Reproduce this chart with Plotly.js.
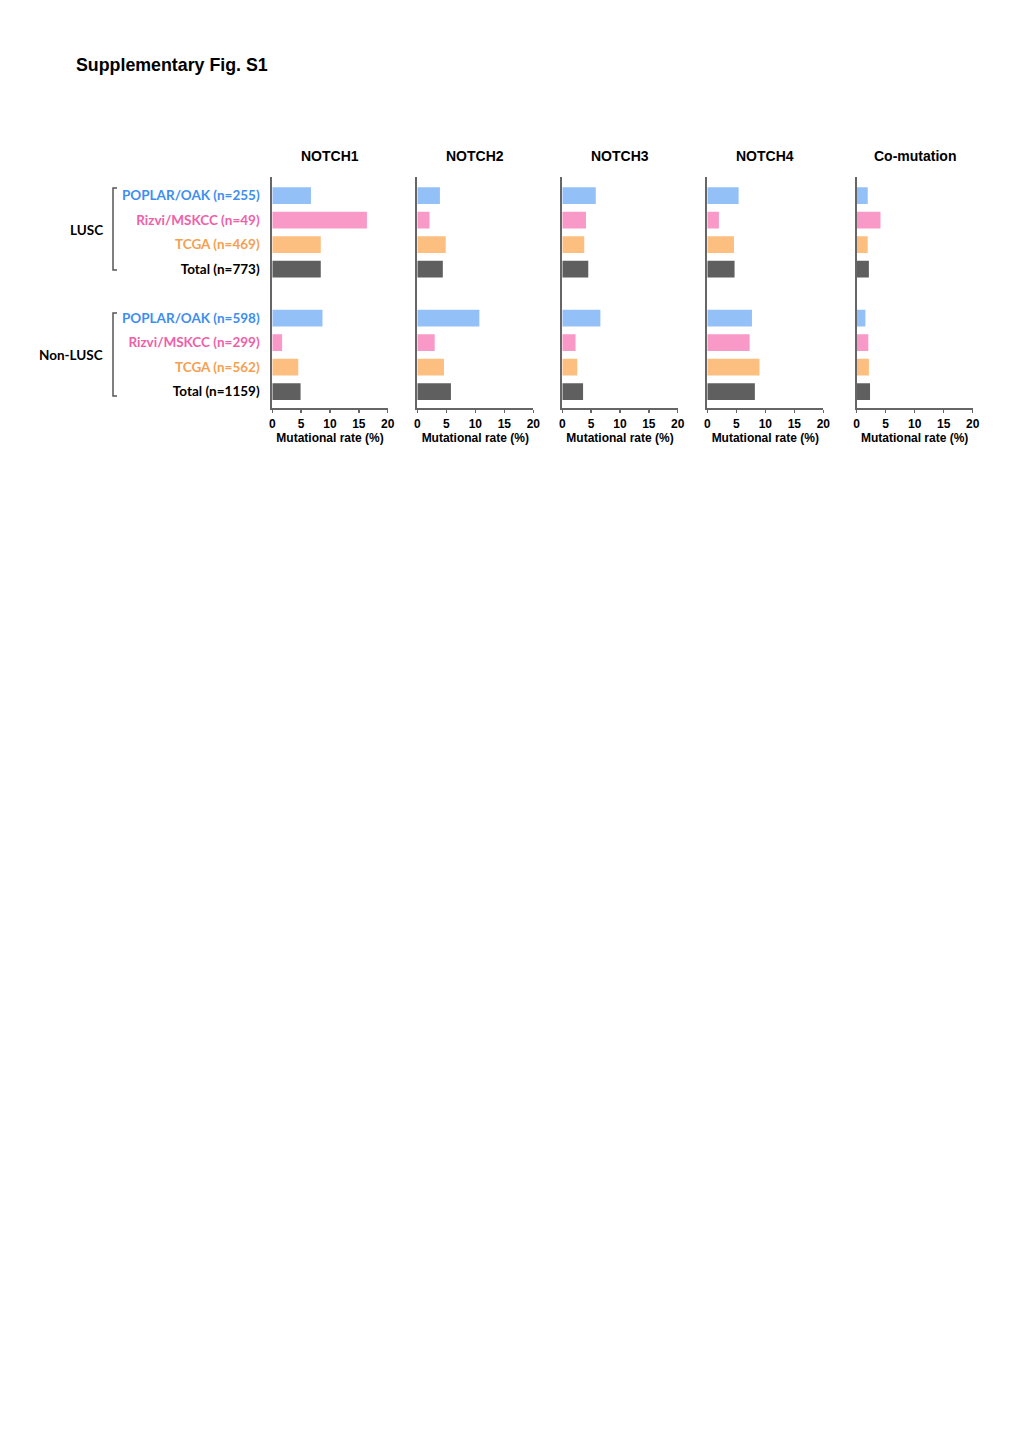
<!DOCTYPE html>
<html>
<head>
<meta charset="utf-8">
<script src="https://cdn.plot.ly/plotly-3.0.1.min.js"></script>
<style>html,body{margin:0;padding:0;background:#fff;}#chart{width:1020px;height:1442px;}</style>
</head>
<body>
<div id="chart"></div>
<script>
// ---- data ----
const panels = ["NOTCH1", "NOTCH2", "NOTCH3", "NOTCH4", "Co-mutation"];
const cohorts = ["POPLAR/OAK", "Rizvi/MSKCC", "TCGA", "Total"];
const groups = ["LUSC", "Non-LUSC"];
const lusc_labels = ["POPLAR/OAK (n=255)", "Rizvi/MSKCC (n=49)", "TCGA (n=469)", "Total (n=773)"];
const nonlusc_labels = ["POPLAR/OAK (n=598)", "Rizvi/MSKCC (n=299)", "TCGA (n=562)", "Total (n=1159)"];
// values: [POPLAR/OAK, Rizvi/MSKCC, TCGA, Total]
const notch1_lusc = [6.7, 16.4, 8.4, 8.4];
const notch1_nonlusc = [8.7, 1.7, 4.5, 4.9];
const notch2_lusc = [3.9, 2.1, 4.9, 4.4];
const notch2_nonlusc = [10.7, 3.0, 4.6, 5.8];
const notch3_lusc = [5.8, 4.1, 3.8, 4.5];
const notch3_nonlusc = [6.6, 2.3, 2.6, 3.6];
const notch4_lusc = [5.4, 2.0, 4.6, 4.7];
const notch4_nonlusc = [7.7, 7.3, 9.0, 8.2];
const comut_lusc = [1.9, 4.1, 1.9, 2.1];
const comut_nonlusc = [1.5, 2.0, 2.1, 2.3];
const xticks = [0, 5, 10, 15, 20];

const lusc = [notch1_lusc, notch2_lusc, notch3_lusc, notch4_lusc, comut_lusc];
const nonlusc = [notch1_nonlusc, notch2_nonlusc, notch3_nonlusc, notch4_nonlusc, comut_nonlusc];

const barColors = ["#94c0f8", "#f899c8", "#fdbf80", "#5f5f5f"];
const labelColors = ["#3d8ef0", "#f060a8", "#f5a050", "#000000"];

// slots: LUSC 0..3, gap at 4, Non-LUSC 5..8
const luscPos = [0, 1, 2, 3];
const nonPos = [5, 6, 7, 8];

const W = 1020, H = 1442;
const xDomPx = [[272.3, 387.7], [417.3, 533.3], [562.3, 677.7], [707.3, 823.3], [856.7, 972.7]];
const yTopPx = 176.7, yBotPx = 408.3;

const traces = [];
const layout = {
  width: W, height: H,
  margin: {l: 0, r: 0, t: 0, b: 0},
  paper_bgcolor: "#ffffff", plot_bgcolor: "#ffffff",
  showlegend: false,
  font: {family: "Liberation Sans, Arial, sans-serif", color: "#000"},
  annotations: [], shapes: []
};

const tickvals = luscPos.concat(nonPos);
const ticktext = lusc_labels.concat(nonlusc_labels).map((t, i) =>
  '<span style="color:' + labelColors[i % 4] + '"><b>' + t + '</b></span>');

panels.forEach((p, k) => {
  const xa = k === 0 ? "x" : "x" + (k + 1);
  const ya = k === 0 ? "y" : "y" + (k + 1);
  const xl = k === 0 ? "xaxis" : "xaxis" + (k + 1);
  const yl = k === 0 ? "yaxis" : "yaxis" + (k + 1);
  const ys = luscPos.concat(nonPos);
  const xs = lusc[k].concat(nonlusc[k]);
  const cols = barColors.concat(barColors);
  traces.push({
    type: "bar", orientation: "h",
    x: xs, y: ys, xaxis: xa, yaxis: ya,
    marker: {color: cols, line: {width: 0}},
    width: 0.68,
    hoverinfo: "x"
  });
  layout[xl] = {
    domain: [xDomPx[k][0] / W, xDomPx[k][1] / W],
    anchor: ya,
    range: [0, 20],
    tickvals: xticks,
    ticktext: xticks.map(String),
    showgrid: false, zeroline: false,
    showline: true, linecolor: "#666666", linewidth: 2,
    ticks: "outside", ticklen: 3, tickwidth: 1.5, tickcolor: "#666666",
    tickfont: {family: "Liberation Sans, Arial, sans-serif", size: 12, color: "#000", weight: "bold"},
    title: {text: "<b>Mutational rate (%)</b>", font: {family: "Liberation Sans, Arial, sans-serif", size: 12, color: "#000"}, standoff: 2},
    fixedrange: true
  };
  layout[yl] = {
    domain: [1 - yBotPx / H, 1 - yTopPx / H],
    anchor: xa,
    range: [8.68, -0.77],
    showgrid: false, zeroline: false,
    showline: true, linecolor: "#666666", linewidth: 2,
    ticks: "",
    tickvals: k === 0 ? tickvals : [],
    ticktext: k === 0 ? ticktext : [],
    showticklabels: k === 0,
    tickfont: {family: "Lato, Open Sans, sans-serif", size: 13.5},
    ticklabelstandoff: 8,
    fixedrange: true
  };
  layout.annotations.push({
    xref: "paper", yref: "paper",
    x: (xDomPx[k][0] + xDomPx[k][1]) / 2 / W, y: 1 - 156 / H,
    text: "<b>" + p + "</b>", showarrow: false,
    font: {family: "Liberation Sans, Arial, sans-serif", size: 14, color: "#000"},
    xanchor: "center", yanchor: "middle"
  });
});

// group labels
const groupY = [230, 355];
groups.forEach((g, i) => {
  layout.annotations.push({
    xref: "paper", yref: "paper",
    x: 105 / W, y: 1 - groupY[i] / H,
    text: "<b>" + g + "</b>", showarrow: false,
    font: {family: "Lato, Open Sans, sans-serif", size: 13.5, color: "#000"},
    xanchor: "right", yanchor: "middle"
  });
});

// brackets
const brackets = [[188, 270], [313, 396]];
brackets.forEach(b => {
  const pts = [[117, b[0]], [113, b[0]], [113, b[1]], [117, b[1]]];
  const path = "M " + pts.map(q => (q[0] / W) + "," + (1 - q[1] / H)).join(" L ");
  layout.shapes.push({type: "path", xref: "paper", yref: "paper", path: path,
    line: {color: "#555555", width: 1.5}});
});

// figure title
layout.annotations.push({
  xref: "paper", yref: "paper", x: 74 / W, y: 1 - 65 / H,
  text: "<b>Supplementary Fig. S1</b>", showarrow: false,
  font: {family: "Liberation Sans, Arial, sans-serif", size: 17.8, color: "#000"},
  xanchor: "left", yanchor: "middle"
});

Plotly.newPlot("chart", traces, layout, {staticPlot: true, displayModeBar: false});
</script>
</body>
</html>
